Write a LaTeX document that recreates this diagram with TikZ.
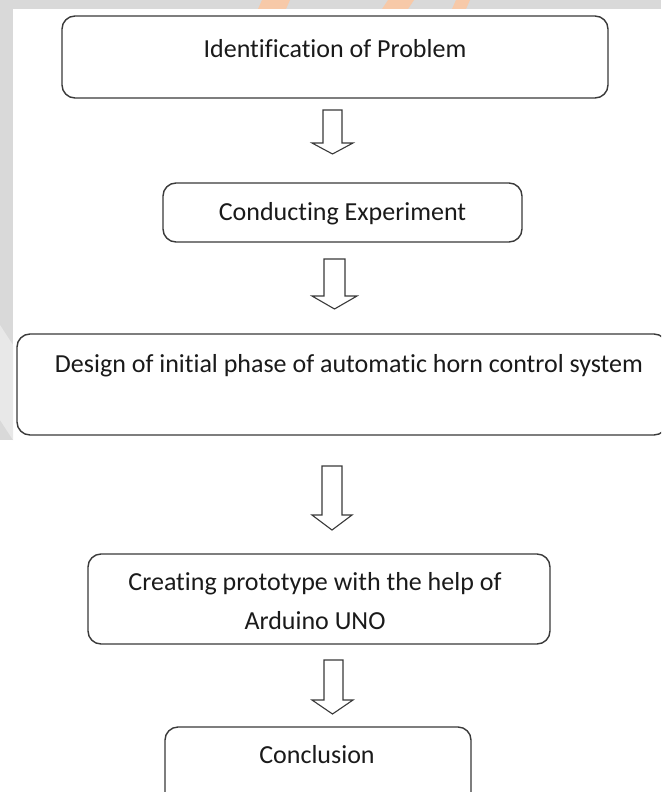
\documentclass[tikz,border=0pt]{standalone}
\usepackage{fontspec}
\setmainfont{Carlito}[Ligatures={NoCommon}]
\definecolor{edge}{HTML}{3A3A3A}
\definecolor{ink}{HTML}{1A1A1A}
\definecolor{band}{HTML}{D9D9D9}
\definecolor{wmorange}{HTML}{F7C9A8}
\begin{document}
\begin{tikzpicture}[x=1pt,y=-1pt,
  box/.style={draw=edge, line width=1.4pt, rounded corners=13pt, fill=white, inner sep=0pt, outer sep=0pt},
  txt/.style={font=\fontsize{26}{39}\selectfont, text=ink, inner sep=0pt, anchor=base, align=center},
  barrow/.style={draw=edge, line width=1.1pt, fill=white, line join=miter}]
\useasboundingbox (0,0) rectangle (661,792);
\clip (0,0) rectangle (661,792);
\fill[white] (0,0) rectangle (661,792);
% background watermark bands
\fill[band] (0,0) rectangle (661,9);
\fill[band] (0,0) rectangle (13,440);
\fill[band!60] (0,325) -- (13,345) -- (13,440) -- (0,420) -- cycle;
\fill[wmorange] (388,0) -- (414,0) -- (408,9) -- (382,9) -- cycle;
\fill[wmorange] (456,0) -- (470,0) -- (466,9) -- (452,9) -- cycle;
\fill[wmorange] (262,0) -- (290,0) -- (286,9) -- (258,9) -- cycle;
% boxes
\node[box, minimum width=546pt, minimum height=82pt] (b1) at (335,57) {};
\node[box, minimum width=359pt, minimum height=59pt] (b2) at (342.5,212.5) {};
\node[box, minimum width=650pt, minimum height=101pt] (b3) at (342,384.5) {};
\node[box, minimum width=462pt, minimum height=90pt] (b4) at (319,599) {};
\node[box, minimum width=306pt, minimum height=80pt] (b5) at (318,767) {};
% texts
\node[txt] (t1) at (335,58) {Identification of Problem};
\node[txt] (t2) at (342.5,220) {Conducting Experiment};
\node[txt] (t3) at (349,372) {Design of initial phase of automatic horn control system};
\node[txt] (t4) at (315,629) {Creating prototype with the help of\\Arduino UNO};
\node[txt] (t5) at (317,763) {Conclusion};
% block arrows
\foreach \l/\r/\hl/\hr/\top/\head/\tip in {
    323/342/312/353/110/143/154,
    324/345/312/357/259/296/309,
    322/342/312/352/466/515/530,
    324/343/312/353/660/700/714}{
  \draw[barrow] (\l,\top) -- (\r,\top) -- (\r,\head) -- (\hr,\head) -- ({(\hl+\hr)/2},\tip)
     -- (\hl,\head) -- (\l,\head) -- cycle;
}
\end{tikzpicture}
\end{document}
